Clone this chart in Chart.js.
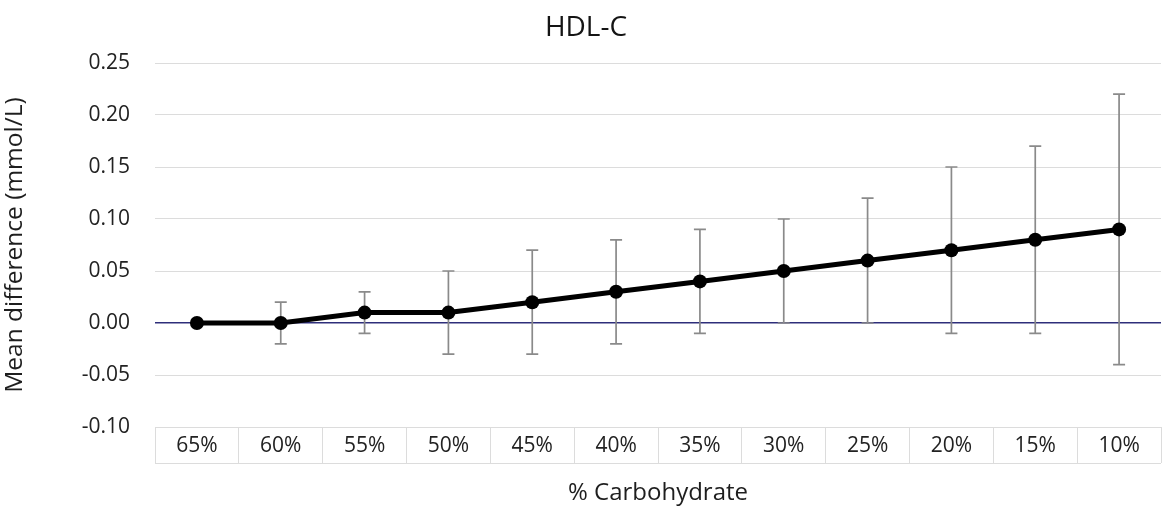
<!DOCTYPE html>
<html>
<head>
<meta charset="utf-8">
<script src="https://cdn.jsdelivr.net/npm/chart.js@4"></script>
<style>
  html, body { margin: 0; padding: 0; background: #ffffff; }
  #wrap { width: 1168px; height: 508px; }
</style>
</head>
<body>
<div id="wrap"><canvas id="c" width="1168" height="508"></canvas></div>
<script>
const categories = ['65%', '60%', '55%', '50%', '45%', '40%', '35%', '30%', '25%', '20%', '15%', '10%'];
const meanDiff = [0.00, 0.00, 0.01, 0.01, 0.02, 0.03, 0.04, 0.05, 0.06, 0.07, 0.08, 0.09];
const ciLower  = [0.00, -0.02, -0.01, -0.03, -0.03, -0.02, -0.01, 0.00, 0.00, -0.01, -0.01, -0.04];
const ciUpper  = [0.00, 0.02, 0.03, 0.05, 0.07, 0.08, 0.09, 0.10, 0.12, 0.15, 0.17, 0.22];
const yTicks = [-0.10, -0.05, 0.00, 0.05, 0.10, 0.15, 0.20, 0.25];

const FONT = "'Open Sans', sans-serif";

const errorBars = {
  id: 'errorBars',
  beforeDatasetsDraw(chart) {
    const ctx = chart.ctx;
    const xs = chart.scales.x, ys = chart.scales.y;
    ctx.save();
    ctx.strokeStyle = '#8a8a8a';
    ctx.lineWidth = 1.7;
    categories.forEach((c, i) => {
      if (ciLower[i] === ciUpper[i]) return;
      const x = xs.getPixelForValue(i);
      const yl = ys.getPixelForValue(ciLower[i]);
      const yu = ys.getPixelForValue(ciUpper[i]);
      ctx.beginPath();
      ctx.moveTo(x, yl); ctx.lineTo(x, yu);
      ctx.moveTo(x - 6, yl); ctx.lineTo(x + 6, yl);
      ctx.moveTo(x - 6, yu); ctx.lineTo(x + 6, yu);
      ctx.stroke();
    });
    ctx.restore();
  }
};

const boxBottom = {
  id: 'boxBottom',
  afterDraw(chart) {
    const xs = chart.scales.x;
    const ctx = chart.ctx;
    ctx.save();
    ctx.strokeStyle = '#dcdcdc';
    ctx.lineWidth = 1;
    const y = Math.round(xs.top + 36) + 0.5;
    ctx.beginPath();
    ctx.moveTo(xs.left, y); ctx.lineTo(xs.right, y);
    ctx.stroke();
    ctx.restore();
  }
};

new Chart(document.getElementById('c'), {
  type: 'line',
  data: {
    labels: categories,
    datasets: [{
      label: 'HDL-C',
      data: meanDiff,
      borderColor: '#000000',
      backgroundColor: '#000000',
      borderWidth: 5,
      pointRadius: 7,
      pointBackgroundColor: '#000000',
      pointBorderWidth: 0,
      tension: 0
    }]
  },
  options: {
    responsive: false,
    devicePixelRatio: 1,
    animation: false,
    layout: { padding: { left: 0, right: -4, top: 0, bottom: 0 } },
    plugins: {
      legend: { display: false },
      tooltip: { enabled: false },
      title: {
        display: true,
        text: 'HDL-C',
        color: '#141414',
        font: { family: FONT, size: 28, weight: 'normal' },
        padding: { top: 11, bottom: 18.4 }
      }
    },
    scales: {
      x: {
        offset: true,
        grid: {
          offset: true,
          drawOnChartArea: false,
          drawTicks: true,
          tickLength: 36,
          color: '#dcdcdc',
          lineWidth: 1
        },
        border: { display: true, color: '#dcdcdc', width: 1 },
        ticks: {
          color: '#222222',
          font: { family: FONT, size: 21 },
          padding: -30,
          maxRotation: 0,
          autoSkip: false
        },
        title: {
          display: true,
          text: '% Carbohydrate',
          color: '#1e1e1e',
          font: { family: FONT, size: 24 },
          padding: { top: 0, bottom: 0 }
        },
        afterFit(scale) { scale.height = 81; }
      },
      y: {
        min: -0.10,
        max: 0.25,
        afterBuildTicks(scale) { scale.ticks = yTicks.map(v => ({ value: v })); },
        grid: {
          drawTicks: false,
          color: ctx => (ctx.tick && Math.abs(ctx.tick.value) < 1e-9) ? '#2e2e7a' : '#dcdcdc',
          lineWidth: ctx => (ctx.tick && Math.abs(ctx.tick.value) < 1e-9) ? 1.6 : 1
        },
        border: { display: false },
        ticks: {
          color: '#222222',
          font: { family: FONT, size: 21 },
          padding: 25,
          callback: v => Number(v).toFixed(2)
        },
        title: {
          display: true,
          text: 'Mean difference (mmol/L)',
          color: '#1e1e1e',
          font: { family: FONT, size: 24.5 },
          padding: { top: 0, bottom: 0 }
        },
        afterFit(scale) { scale.width = 155; }
      }
    }
  },
  plugins: [errorBars, boxBottom]
});
</script>
</body>
</html>
